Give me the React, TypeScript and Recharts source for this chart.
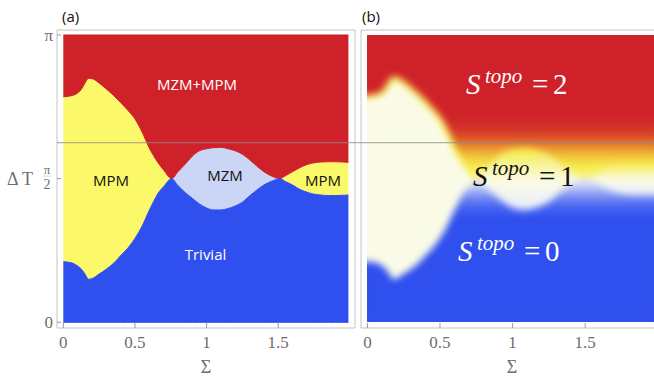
import React from "react";
import {
  ComposedChart,
  Area,
  Line,
  XAxis,
  YAxis,
  ReferenceLine,
  ReferenceArea,
} from "recharts";

// Σ grid and phase boundaries; ΔT given in units of π
const SIGMA = [
  0, 0.05, 0.1, 0.13, 0.155, 0.175, 0.2, 0.25, 0.3, 0.35, 0.4, 0.45, 0.5, 0.55,
  0.6, 0.63, 0.66, 0.7, 0.756, 0.8, 0.85, 0.9, 0.95, 1.0, 1.05, 1.1, 1.15, 1.2,
  1.25, 1.3, 1.35, 1.4, 1.45, 1.512, 1.55, 1.6, 1.65, 1.7, 1.75, 1.8, 1.85, 1.9,
  1.95, 1.99,
];
// upper edge of the MPM / MZM strip (above it: MZM+MPM)
const UPPER = [
  0.785, 0.788, 0.798, 0.814, 0.836, 0.849, 0.848, 0.833, 0.812, 0.79, 0.765,
  0.738, 0.708, 0.662, 0.607, 0.58, 0.556, 0.53, 0.5, 0.524, 0.55, 0.578,
  0.597, 0.604, 0.608, 0.609, 0.604, 0.597, 0.585, 0.566, 0.544, 0.524, 0.51,
  0.5, 0.51, 0.524, 0.538, 0.549, 0.555, 0.558, 0.559, 0.559, 0.558, 0.557,
];
// lower edge of the strip (below it: Trivial)
const LOWER = [
  0.211, 0.208, 0.196, 0.183, 0.165, 0.15, 0.152, 0.168, 0.185, 0.205, 0.232,
  0.258, 0.292, 0.335, 0.39, 0.42, 0.448, 0.472, 0.5, 0.476, 0.452, 0.432,
  0.412, 0.398, 0.391, 0.391, 0.396, 0.405, 0.418, 0.44, 0.46, 0.478, 0.49,
  0.5, 0.49, 0.478, 0.463, 0.453, 0.446, 0.443, 0.441, 0.441, 0.442, 0.443,
];
// crossing points where the strip pinches shut
const MZM_START = 0.756;
const MZM_END = 1.512;

const X_TICKS = [0, 0.5, 1, 1.5];
const Y_TICKS = [0, 0.5, 1];
const CUT_LINE = 0.625;

const X_DOMAIN: [number, number] = [-0.044, 2.036];
const Y_DOMAIN: [number, number] = [-0.0198, 1.0174];

const RED = "#cf2129";
const YELLOW = "#fbf96a";
const LIGHTBLUE = "#cbd5f5";
const BLUE = "#2f4fee";
const CREAM = "#fafbe7";
const FRAME = "#c4c4c4";
const TICK = "#6e6e6e";

const rows = SIGMA.map((s, i) => ({
  s,
  trivial: [0, LOWER[i]],
  both: [UPPER[i], 1],
  mpmLeft: s <= MZM_START ? [LOWER[i], UPPER[i]] : null,
  mzm: s >= MZM_START && s <= MZM_END ? [LOWER[i], UPPER[i]] : null,
  mpmRight: s >= MZM_END ? [LOWER[i], UPPER[i]] : null,
  rim: s <= MZM_START ? UPPER[i] : null,
}));

const H = 377;
const MARGIN = { top: 30, right: 7, bottom: 0, left: 0 };
const Y_W = 57;
const X_H = 49;
const B_PLOT_W = 302;

const serif = "'Liberation Serif', 'DejaVu Serif', serif";
const sans = "'Open Sans', 'Noto Sans', sans-serif";

const YTick = (props: any) => {
  const { x, y, payload } = props;
  const v = payload.value;
  if (v === 0.5) {
    return (
      <g fill={TICK} fontFamily={serif}>
        <text x={x - 6} y={y - 5} textAnchor="middle" fontSize={13}>
          π
        </text>
        <line x1={x - 10} x2={x - 2} y1={y - 2.5} y2={y - 2.5} stroke="#bbb" strokeWidth={0.6} />
        <text x={x - 6} y={y + 10} textAnchor="middle" fontSize={14}>
          2
        </text>
      </g>
    );
  }
  return (
    <text x={x} y={y + 6} textAnchor="end" fontSize={17} fill={TICK} fontFamily={serif}>
      {v === 1 ? "π" : "0"}
    </text>
  );
};

const SLabel = ({ x, y, n, color }: { x: number; y: number; n: string; color: string }) => (
  <text y={y} fill={color} fontFamily={serif}>
    <tspan x={x} fontStyle="italic" fontSize={29}>
      S
    </tspan>
    <tspan x={x + 19} dy={-11} fontStyle="italic" fontSize={21}>
      topo
    </tspan>
    <tspan x={x + 66} dy={11} fontSize={29}>
      =
    </tspan>
    <tspan x={x + 87} fontSize={29}>
      {n}
    </tspan>
  </text>
);

const xAxisProps = {
  type: "number" as const,
  dataKey: "s",
  domain: X_DOMAIN,
  ticks: X_TICKS,
  height: X_H,
  axisLine: false,
  tickSize: -5,
  tickMargin: 13,
  tickLine: { stroke: "#999" },
  tick: { fontSize: 17, fill: TICK, fontFamily: serif },
  label: { value: "Σ", position: "insideBottom" as const, offset: 4, fontSize: 18, fill: TICK, fontFamily: serif },
};

export default function App() {
  // filter region of panel (b) colours, in the layer's own pixels
  const kx = B_PLOT_W / (X_DOMAIN[1] - X_DOMAIN[0]);
  const ky = (H - MARGIN.top - X_H) / (Y_DOMAIN[1] - Y_DOMAIN[0]);
  const fx = Y_W + (SIGMA[0] - X_DOMAIN[0]) * kx;
  const fw = (SIGMA[SIGMA.length - 1] - SIGMA[0]) * kx;
  const fy = MARGIN.top + (Y_DOMAIN[1] - 1) * ky;
  const fh = ky;

  const wB = Y_W + B_PLOT_W + MARGIN.right;

  return (
    <div
      style={{
        position: "absolute",
        left: 0,
        top: 0,
        width: 654,
        height: H,
        overflow: "hidden",
        background: "#fff",
      }}
    >
      <svg width={0} height={0} style={{ position: "absolute" }}>
        <defs>
          <filter
            id="softB"
            filterUnits="userSpaceOnUse"
            x={fx + 0.5}
            y={fy + 0.5}
            width={fw - 1}
            height={fh - 1}
            colorInterpolationFilters="sRGB"
          >
            <feGaussianBlur stdDeviation={3.5} />
            <feComponentTransfer>
              <feFuncA type="linear" slope={0} intercept={1} />
            </feComponentTransfer>
          </filter>
        </defs>
      </svg>

      {/* panel (a) */}
      <div style={{ position: "absolute", left: 0, top: 0 }}>
        <ComposedChart width={362} height={H} data={rows} margin={MARGIN}>
          <XAxis {...xAxisProps} />
          <YAxis
            type="number"
            domain={Y_DOMAIN}
            ticks={Y_TICKS}
            width={Y_W}
            axisLine={false}
            tickSize={-4}
            tickMargin={8}
            tickLine={{ stroke: "#999" }}
            tick={<YTick />}
            label={{ value: "Δ T", position: "insideLeft", offset: 7, fontSize: 18, fill: TICK, fontFamily: serif }}
          />
          <Area dataKey="mpmLeft" type="monotone" fill={YELLOW} fillOpacity={1} stroke="none" dot={false} activeDot={false} isAnimationActive={false} />
          <Area dataKey="mzm" type="monotone" fill={LIGHTBLUE} fillOpacity={1} stroke="none" dot={false} activeDot={false} isAnimationActive={false} />
          <Area dataKey="mpmRight" type="monotone" fill={YELLOW} fillOpacity={1} stroke="none" dot={false} activeDot={false} isAnimationActive={false} />
          <Area dataKey="both" type="monotone" fill={RED} fillOpacity={1} stroke={RED} strokeWidth={1} dot={false} activeDot={false} isAnimationActive={false} />
          <Area dataKey="trivial" type="monotone" fill={BLUE} fillOpacity={1} stroke={BLUE} strokeWidth={1} dot={false} activeDot={false} isAnimationActive={false} />
          <ReferenceArea x1={X_DOMAIN[0]} x2={X_DOMAIN[1]} y1={Y_DOMAIN[0]} y2={Y_DOMAIN[1]} fill="none" stroke={FRAME} ifOverflow="visible" />
          <ReferenceLine
            segment={[
              { x: X_DOMAIN[0], y: CUT_LINE },
              { x: 2.6, y: CUT_LINE },
            ]}
            ifOverflow="visible"
            stroke="#8c8c8c"
            strokeOpacity={0.85}
          />
        </ComposedChart>
      </div>

      {/* panel (b) colours, softened */}
      <div style={{ position: "absolute", left: 304, top: 0, filter: "url(#softB)" }}>
        <ComposedChart width={wB} height={H} data={rows} margin={MARGIN}>
          <defs>
            <linearGradient id="redB" x1="0" y1="0" x2="0" y2="1">
              <stop offset="0" stopColor={RED} />
              <stop offset="0.56" stopColor={RED} />
              <stop offset="0.68" stopColor="#d63a28" />
              <stop offset="0.76" stopColor="#e47a2c" />
              <stop offset="0.84" stopColor="#f1c238" />
              <stop offset="0.92" stopColor="#f7ee50" />
              <stop offset="1" stopColor="#f8f27a" />
            </linearGradient>
            <linearGradient id="blueB" x1="0" y1="0" x2="0" y2="1">
              <stop offset="0" stopColor="#e6eafb" />
              <stop offset="0.06" stopColor="#bfcaf7" />
              <stop offset="0.12" stopColor="#7d92f2" />
              <stop offset="0.2" stopColor="#4462ef" />
              <stop offset="0.28" stopColor={BLUE} />
              <stop offset="1" stopColor={BLUE} />
            </linearGradient>
            <linearGradient id="midB" x1="0" y1="0" x2="0" y2="1">
              <stop offset="0" stopColor="#f6ea3a" />
              <stop offset="0.3" stopColor="#f8f4a0" />
              <stop offset="0.55" stopColor="#fafbe8" />
              <stop offset="1" stopColor="#e8ecfb" />
            </linearGradient>
          </defs>
          <XAxis type="number" dataKey="s" domain={X_DOMAIN} height={X_H} tick={false} tickLine={false} axisLine={false} />
          <YAxis type="number" domain={Y_DOMAIN} width={Y_W} tick={false} tickLine={false} axisLine={false} />
          <Area dataKey="mpmLeft" type="monotone" fill={CREAM} fillOpacity={1} stroke="none" dot={false} activeDot={false} isAnimationActive={false} />
          <Area dataKey="mzm" type="monotone" fill="url(#midB)" fillOpacity={1} stroke="none" dot={false} activeDot={false} isAnimationActive={false} />
          <Area dataKey="mpmRight" type="monotone" fill="url(#midB)" fillOpacity={1} stroke="none" dot={false} activeDot={false} isAnimationActive={false} />
          <Area dataKey="both" type="monotone" fill="url(#redB)" fillOpacity={1} stroke="none" dot={false} activeDot={false} isAnimationActive={false} />
          <Area dataKey="trivial" type="monotone" fill="url(#blueB)" fillOpacity={1} stroke="none" dot={false} activeDot={false} isAnimationActive={false} />
          <Line dataKey="rim" type="monotone" stroke="#f7ef45" strokeWidth={4} dot={false} activeDot={false} isAnimationActive={false} />
        </ComposedChart>
      </div>

      {/* panel (b) axes and frame */}
      <div style={{ position: "absolute", left: 304, top: 0 }}>
        <ComposedChart width={wB} height={H} data={rows} margin={MARGIN}>
          <XAxis {...xAxisProps} />
          <YAxis
            type="number"
            domain={Y_DOMAIN}
            ticks={Y_TICKS}
            width={Y_W}
            axisLine={false}
            tickSize={-4}
            tickLine={{ stroke: "#999" }}
            tick={false}
          />
          <Line dataKey="rim" stroke="none" dot={false} activeDot={false} isAnimationActive={false} />
          <ReferenceArea x1={X_DOMAIN[0]} x2={X_DOMAIN[1]} y1={Y_DOMAIN[0]} y2={Y_DOMAIN[1]} fill="none" stroke={FRAME} ifOverflow="visible" />
          <ReferenceLine
            segment={[
              { x: X_DOMAIN[0], y: CUT_LINE },
              { x: X_DOMAIN[1], y: CUT_LINE },
            ]}
            ifOverflow="visible"
            stroke="#8c8c8c"
            strokeOpacity={0.85}
          />
        </ComposedChart>
      </div>

      <svg width={654} height={H} style={{ position: "absolute", left: 0, top: 0, pointerEvents: "none" }}>
        <g fontFamily={sans} fontSize={15}>
          <text x={62} y={22} fill="#111">(a)</text>
          <text x={362} y={22} fill="#111">(b)</text>
          <text x={197} y={89.5} textAnchor="middle" fill="#fff">MZM+MPM</text>
          <text x={111} y={185.5} textAnchor="middle" fill="#111">MPM</text>
          <text x={225} y={181} textAnchor="middle" fill="#111">MZM</text>
          <text x={323} y={185.5} textAnchor="middle" fill="#111">MPM</text>
          <text x={205.5} y={259.5} textAnchor="middle" fill="#fff">Trivial</text>
        </g>
        <SLabel x={466} y={94} n="2" color="#fff" />
        <SLabel x={473} y={186} n="1" color="#111" />
        <SLabel x={458} y={261} n="0" color="#fff" />
      </svg>
    </div>
  );
}
